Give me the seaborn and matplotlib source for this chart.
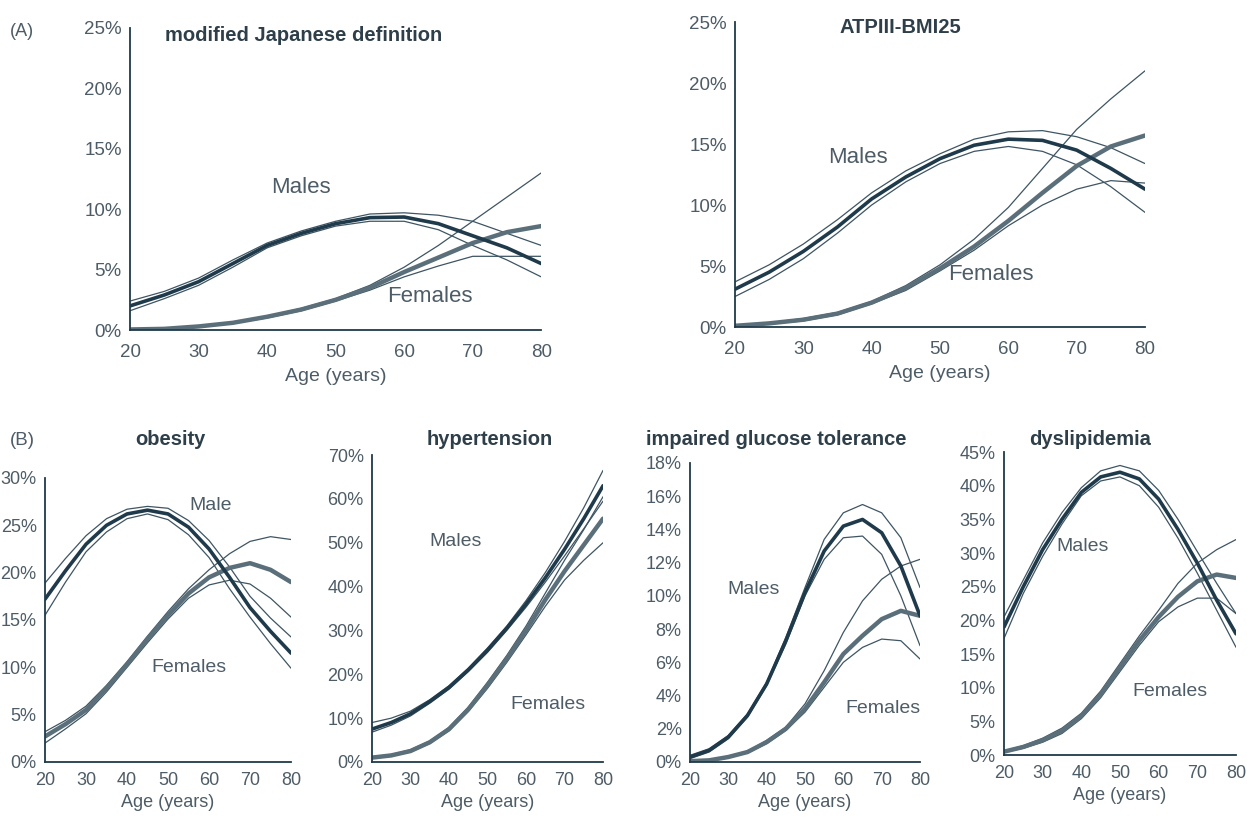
import numpy as np
import pandas as pd
import matplotlib
matplotlib.use("Agg")
import matplotlib.pyplot as plt
from matplotlib.ticker import PercentFormatter, MultipleLocator
import seaborn as sns

sns.set_theme(style="white")
plt.rcParams['font.family'] = ['Liberation Sans', 'DejaVu Sans']

ages = [20, 25, 30, 35, 40, 45, 50, 55, 60, 65, 70, 75, 80]

# (A) modified Japanese definition
jp_m = [2.0, 2.9, 4.0, 5.5, 7.0, 8.0, 8.8, 9.3, 9.35, 8.8, 7.8, 6.8, 5.5]
jp_m_hi = [2.4, 3.2, 4.3, 5.8, 7.2, 8.2, 9.0, 9.6, 9.7, 9.5, 9.0, 8.0, 7.0]
jp_m_lo = [1.6, 2.6, 3.7, 5.2, 6.8, 7.8, 8.6, 9.0, 9.0, 8.3, 7.0, 5.8, 4.4]
jp_f = [0.05, 0.1, 0.3, 0.6, 1.1, 1.7, 2.5, 3.5, 4.8, 6.0, 7.2, 8.1, 8.6]
jp_f_hi = [0.05, 0.15, 0.35, 0.65, 1.15, 1.8, 2.6, 3.7, 5.2, 7.0, 9.0, 11.0, 13.0]
jp_f_lo = [0.02, 0.08, 0.25, 0.55, 1.0, 1.6, 2.4, 3.3, 4.4, 5.3, 6.1, 6.1, 6.1]

# (A) ATPIII-BMI25
atp_m = [3.1, 4.5, 6.2, 8.2, 10.5, 12.3, 13.8, 14.9, 15.4, 15.3, 14.5, 13.0, 11.3]
atp_m_hi = [3.7, 5.1, 6.8, 8.8, 11.0, 12.8, 14.2, 15.4, 16.0, 16.1, 15.6, 14.7, 13.4]
atp_m_lo = [2.5, 3.9, 5.6, 7.7, 10.0, 11.9, 13.4, 14.4, 14.8, 14.4, 13.3, 11.5, 9.4]
atp_f = [0.1, 0.3, 0.6, 1.1, 2.0, 3.2, 4.8, 6.6, 8.7, 11.0, 13.2, 14.8, 15.7]
atp_f_hi = [0.1, 0.35, 0.7, 1.2, 2.1, 3.4, 5.1, 7.2, 9.8, 13.0, 16.2, 18.7, 21.0]
atp_f_lo = [0.05, 0.25, 0.5, 1.0, 1.9, 3.0, 4.6, 6.3, 8.3, 10.0, 11.3, 12.0, 11.8]

# (B) obesity
ob_m = [17.2, 20.2, 23.0, 25.0, 26.2, 26.6, 26.2, 24.8, 22.5, 19.5, 16.3, 13.8, 11.5]
ob_m_hi = [18.9, 21.5, 23.9, 25.7, 26.7, 27.0, 26.8, 25.5, 23.4, 20.6, 17.5, 15.2, 13.2]
ob_m_lo = [15.5, 19.0, 22.2, 24.3, 25.7, 26.2, 25.6, 24.0, 21.6, 18.3, 15.3, 12.5, 9.9]
ob_f = [2.7, 4.0, 5.5, 7.8, 10.3, 13.0, 15.5, 17.8, 19.5, 20.5, 21.0, 20.3, 19.0]
ob_f_hi = [3.2, 4.4, 5.9, 8.1, 10.6, 13.3, 15.9, 18.3, 20.3, 22.0, 23.3, 23.8, 23.5]
ob_f_lo = [2.0, 3.5, 5.1, 7.4, 10.0, 12.6, 15.1, 17.3, 18.7, 19.2, 18.8, 17.3, 15.3]

# (B) hypertension
ht_m = [7.5, 9.0, 11.0, 13.8, 17.0, 21.0, 25.5, 30.5, 36.0, 42.0, 48.5, 55.5, 63.0]
ht_m_hi = [9.0, 10.0, 11.6, 14.2, 17.4, 21.4, 26.0, 31.0, 36.8, 43.2, 50.3, 58.0, 66.5]
ht_m_lo = [6.8, 8.4, 10.5, 13.4, 16.6, 20.6, 25.0, 30.0, 35.3, 41.0, 47.0, 53.2, 59.5]
ht_f = [1.0, 1.5, 2.5, 4.5, 7.5, 12.0, 17.5, 23.5, 30.0, 37.0, 43.5, 49.5, 55.5]
ht_f_hi = [1.2, 1.7, 2.8, 4.8, 7.9, 12.5, 18.2, 24.3, 31.0, 38.5, 46.0, 53.0, 60.5]
ht_f_lo = [0.8, 1.3, 2.3, 4.2, 7.1, 11.5, 16.8, 22.7, 29.0, 35.5, 41.5, 46.0, 50.0]

# (B) impaired glucose tolerance
igt_m = [0.3, 0.7, 1.5, 2.8, 4.7, 7.3, 10.2, 12.7, 14.2, 14.6, 13.8, 11.8, 8.8]
igt_m_hi = [0.4, 0.8, 1.6, 2.9, 4.8, 7.5, 10.5, 13.4, 15.0, 15.5, 15.0, 13.5, 10.5]
igt_m_lo = [0.2, 0.6, 1.4, 2.7, 4.6, 7.1, 10.0, 12.2, 13.5, 13.6, 12.5, 10.0, 7.0]
igt_f = [0.05, 0.1, 0.3, 0.6, 1.2, 2.0, 3.2, 4.8, 6.5, 7.6, 8.6, 9.1, 8.8]
igt_f_hi = [0.06, 0.12, 0.35, 0.65, 1.3, 2.1, 3.5, 5.5, 7.8, 9.7, 11.0, 11.8, 12.2]
igt_f_lo = [0.04, 0.08, 0.25, 0.55, 1.1, 1.9, 3.0, 4.5, 6.0, 6.9, 7.4, 7.3, 6.2]

# (B) dyslipidemia
dl_m = [19.0, 25.0, 30.5, 35.0, 39.0, 41.3, 42.0, 41.0, 38.0, 33.5, 28.5, 23.0, 18.0]
dl_m_hi = [20.5, 26.0, 31.5, 36.0, 39.7, 42.2, 43.0, 42.2, 39.3, 35.0, 30.2, 25.5, 21.0]
dl_m_lo = [17.3, 24.0, 29.5, 34.3, 38.5, 40.7, 41.3, 40.0, 36.8, 32.2, 27.0, 21.5, 16.0]
dl_f = [0.5, 1.2, 2.2, 3.6, 5.8, 9.0, 13.0, 17.0, 20.5, 23.5, 25.8, 26.8, 26.3]
dl_f_hi = [0.6, 1.4, 2.5, 4.0, 6.2, 9.5, 13.6, 17.7, 21.5, 25.5, 28.5, 30.5, 32.0]
dl_f_lo = [0.4, 1.0, 1.9, 3.2, 5.4, 8.5, 12.4, 16.3, 19.8, 22.0, 23.3, 23.3, 21.0]

titles = ["modified Japanese definition", "ATPIII-BMI25", "obesity",
          "hypertension", "impaired glucose tolerance", "dyslipidemia"]
male_labels = ["Males", "Males", "Male", "Males", "Males", "Males"]

panels = [
    (jp_m, jp_m_hi, jp_m_lo, jp_f, jp_f_hi, jp_f_lo),
    (atp_m, atp_m_hi, atp_m_lo, atp_f, atp_f_hi, atp_f_lo),
    (ob_m, ob_m_hi, ob_m_lo, ob_f, ob_f_hi, ob_f_lo),
    (ht_m, ht_m_hi, ht_m_lo, ht_f, ht_f_hi, ht_f_lo),
    (igt_m, igt_m_hi, igt_m_lo, igt_f, igt_f_hi, igt_f_lo),
    (dl_m, dl_m_hi, dl_m_lo, dl_f, dl_f_hi, dl_f_lo),
]

# layout (figure fractions) and styling
rects = [
    [0.1043, 0.597, 0.3297, 0.369],
    [0.5894, 0.6007, 0.3288, 0.3724],
    [0.0361, 0.0696, 0.1973, 0.3468],
    [0.2983, 0.0696, 0.1853, 0.3748],
    [0.5533, 0.0696, 0.1845, 0.3651],
    [0.8051, 0.0781, 0.1861, 0.3700],
]
ymax = [25, 25, 30, 70, 18, 45]
ystep = [5, 5, 5, 10, 2, 5]
male_pos = [(45, 11.8), (38, 13.9), (60.5, 27.1), (41.6, 50.2), (36.5, 10.4), (40.4, 30.9)]
fem_pos = [(63.8, 2.8), (57.5, 4.3), (55, 10.0), (65.7, 13.2), (70.4, 3.25), (62.9, 9.4)]
# title anchors in figure fraction (left-aligned for A, centered for B)
title_xy = [(0.1325, 0.957), (0.6735, 0.967), (0.1365, 0.4628),
            (0.393, 0.4628), (0.6225, 0.4628), (0.874, 0.4628)]

dark = "#1f3a4a"
thin = "#3e5563"
fem = "#5b6f7a"
txt = "#4d5c66"

fig = plt.figure(figsize=(12.47, 8.19), dpi=100)
fig.patch.set_facecolor("white")

for i, (rect, data) in enumerate(zip(rects, panels)):
    ax = fig.add_axes(rect)
    m, mhi, mlo, f, fhi, flo = data
    big = i < 2
    for s in (mhi, mlo, fhi, flo):
        sns.lineplot(x=ages, y=s, ax=ax, color=thin, lw=0.9)
    sns.lineplot(x=ages, y=f, ax=ax, color=fem, lw=3.2)
    sns.lineplot(x=ages, y=m, ax=ax, color=dark, lw=2.6)
    ax.set_xlim(20, 80)
    ax.set_ylim(0, ymax[i])
    ax.set_xticks([20, 30, 40, 50, 60, 70, 80])
    ax.yaxis.set_major_locator(MultipleLocator(ystep[i]))
    ax.yaxis.set_major_formatter(PercentFormatter(xmax=100, decimals=0))
    for sp in ("top", "right"):
        ax.spines[sp].set_visible(False)
    for sp in ("left", "bottom"):
        ax.spines[sp].set_color(dark)
        ax.spines[sp].set_linewidth(1.3)
    fs = 13.5 if big else 13
    ax.tick_params(direction="in", length=5, width=1.1, color=dark,
                   labelsize=fs, labelcolor=txt, pad=6)
    ax.tick_params(axis="x", pad=10 if big else 7)
    ax.set_xlabel("Age (years)", fontsize=14 if big else 13, color=txt,
                  labelpad=5 if big else 4)
    ax.set_ylabel("")
    ax.set_facecolor("white")
    ax.grid(False)
    tx, ty = title_xy[i]
    fig.text(tx, ty, titles[i], fontsize=14.5, fontweight="bold", color="#2e3f4a",
             ha="left" if big else "center", va="center")
    lfs = 16 if big else 14
    ax.text(*male_pos[i], male_labels[i], fontsize=lfs, color=txt, ha="center", va="center")
    ax.text(*fem_pos[i], "Females", fontsize=lfs, color=txt, ha="center", va="center")

fig.text(0.008, 0.962, "(A)", fontsize=13, color=txt, ha="left", va="center")
fig.text(0.008, 0.462, "(B)", fontsize=13.5, color=txt, ha="left", va="center")

fig.savefig("out.png", dpi=100, facecolor="white")
